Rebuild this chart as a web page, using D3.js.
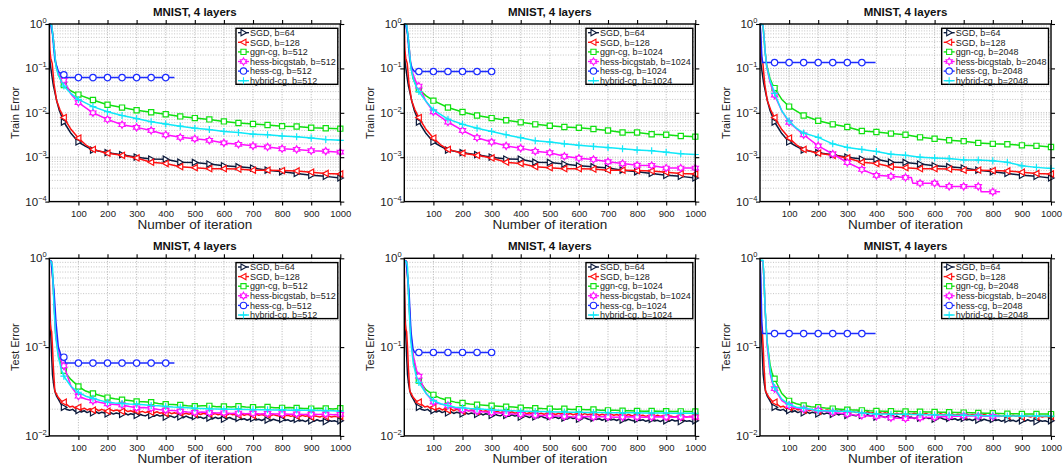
<!DOCTYPE html>
<html>
<head>
<meta charset="utf-8">
<script src="https://cdn.jsdelivr.net/npm/d3@7"></script>
<style>
  body { margin: 0; background: #fff; }
  svg { display: block; font-family: "Liberation Sans", Arial, sans-serif; }
</style>
</head>
<body>
<svg id="chart" width="1063" height="465"></svg>
<script>
// ---------------- data ----------------
const batchSizes = [512, 1024, 2048];
const panelTitle = "MNIST, 4 layers";
const xLabel = "Number of iteration";
const rowLabels = ["Train Error", "Test Error"];
const xTicks = [100, 200, 300, 400, 500, 600, 700, 800, 900, 1000];
const trainDecades = [1e-4, 1e-3, 1e-2, 1e-1, 1];
const testDecades = [1e-2, 1e-1, 1];
const methodNames = ["SGD, b=64", "SGD, b=128", "ggn-cg, b=", "hess-bicgstab, b=", "hess-cg, b=", "hybrid-cg, b="];

// iteration grids used by the denser recorded runs
const testGrid = d3.range(50, 1001, 25);
const sgdGrid = d3.range(50, 1001, 10);
function withGrid(early, grid, vals) {
  return early.concat(vals.map((v, i) => [grid[i], v]));
}

// ---- training error (shared SGD baselines) ----
const trainSgd64 = [[0,.3],[3,.13],[8,.075],[13,.045],[20,.027],[27,.017],[34,.0115],[42,.0085],[50,6.2e-3],[75,3.4e-3],[100,2.2e-3],[125,1.75e-3],[150,1.45e-3],[200,1.26e-3],[250,1.14e-3],[300,1.0e-3],[350,9.1e-4],[400,9.0e-4],[450,7.7e-4],[500,7.6e-4],[550,7.0e-4],[600,6.4e-4],[650,6.1e-4],[700,5.7e-4],[750,5.1e-4],[800,4.7e-4],[850,4.3e-4],[900,3.9e-4],[950,3.7e-4],[1000,3.4e-4]];
const trainSgd128 = [[0,1],[2,.26],[5,.17],[10,.13],[16,.046],[25,.019],[37,.0115],[50,7.8e-3],[75,4.2e-3],[100,2.7e-3],[125,1.9e-3],[150,1.5e-3],[200,1.23e-3],[250,1.1e-3],[300,9.6e-4],[350,7.7e-4],[400,7.2e-4],[450,6.1e-4],[500,5.8e-4],[550,5.5e-4],[600,5.5e-4],[650,5.4e-4],[700,5.1e-4],[750,5.1e-4],[800,5.0e-4],[850,4.9e-4],[900,4.6e-4],[950,4.3e-4],[1000,4.2e-4]];

// b = 512
const trainGgn512 = [[0,1],[8,.95],[14,.45],[22,.13],[31,.075],[42,.05],[50,.042],[75,.031],[100,.0257],[150,.0194],[200,.0152],[250,.0131],[300,.0114],[350,.0103],[400,.0093],[450,8.3e-3],[500,7.6e-3],[550,7.1e-3],[600,6.4e-3],[650,5.9e-3],[700,5.6e-3],[750,5.3e-3],[800,5.0e-3],[850,4.9e-3],[900,4.6e-3],[950,4.5e-3],[1000,4.4e-3]];
const trainBicg512 = [[0,1],[8,.95],[14,.45],[22,.13],[31,.08],[42,.062],[50,.054],[75,.026],[100,.017],[150,.01],[200,7.1e-3],[250,5.4e-3],[300,4.7e-3],[350,4.0e-3],[400,3.2e-3],[450,2.8e-3],[500,2.6e-3],[550,2.4e-3],[600,2.1e-3],[650,1.95e-3],[700,1.8e-3],[750,1.7e-3],[800,1.55e-3],[850,1.5e-3],[900,1.4e-3],[950,1.37e-3],[1000,1.3e-3]];
const trainHessCg512 = [[0,1],[5,.95],[11,.6],[19,.155],[31,.085],[42,.075],[50,.072],[60,.062],[100,.062],[150,.062],[200,.062],[250,.062],[300,.062],[350,.062],[400,.062],[430,.062]];
const trainHybrid512 = [[0,1],[8,.95],[14,.44],[23,.11],[31,.07],[42,.05],[50,.04],[75,.027],[100,.02],[150,.0138],[200,.0106],[250,8.7e-3],[300,7.4e-3],[350,6.3e-3],[400,5.6e-3],[450,5.0e-3],[500,4.5e-3],[550,4.2e-3],[600,3.8e-3],[650,3.6e-3],[700,3.3e-3],[750,3.2e-3],[800,3.0e-3],[850,2.9e-3],[900,2.7e-3],[950,2.5e-3],[1000,2.4e-3]];

// b = 1024
const trainGgn1024 = [[0,1],[8,.95],[14,.45],[22,.12],[30,.06],[40,.042],[50,.034],[75,.024],[100,.0188],[150,.0132],[200,.0104],[250,8.7e-3],[300,7.6e-3],[350,6.8e-3],[400,6.1e-3],[450,5.5e-3],[500,5.1e-3],[550,4.8e-3],[600,4.6e-3],[650,4.3e-3],[700,4.0e-3],[750,3.6e-3],[800,3.6e-3],[850,3.3e-3],[900,3.2e-3],[950,3.0e-3],[1000,2.9e-3]];
const trainBicg1024 = [[0,1],[8,.95],[14,.45],[22,.13],[30,.075],[40,.05],[50,.04],[75,.018],[100,.0105],[150,6.2e-3],[200,4.0e-3],[250,2.75e-3],[300,2.2e-3],[350,1.8e-3],[400,1.6e-3],[450,1.36e-3],[500,1.26e-3],[550,1.05e-3],[600,9.5e-4],[650,8.9e-4],[700,7.9e-4],[750,7.2e-4],[800,6.6e-4],[850,6.5e-4],[900,5.7e-4],[950,5.7e-4],[1000,5.7e-4]];
const trainHessCg1024 = [[0,1],[5,.95],[11,.6],[19,.15],[27,.1],[35,.085],[50,.085],[100,.085],[150,.085],[200,.085],[250,.085],[300,.085],[305,.085]];
const trainHybrid1024 = [[0,1],[8,.95],[14,.44],[23,.1],[32,.055],[42,.038],[50,.03],[75,.018],[100,.0116],[150,7.2e-3],[200,5.5e-3],[250,4.5e-3],[300,3.8e-3],[350,3.2e-3],[400,2.75e-3],[450,2.35e-3],[500,2.2e-3],[550,2.0e-3],[600,1.85e-3],[650,1.75e-3],[700,1.65e-3],[750,1.55e-3],[800,1.45e-3],[850,1.4e-3],[900,1.3e-3],[950,1.2e-3],[1000,1.15e-3]];

// b = 2048
const trainGgn2048 = [[0,1],[10,.95],[14,.5],[17,.26],[23,.12],[34,.06],[42,.045],[50,.036],[75,.02],[100,.0138],[150,8.7e-3],[200,6.6e-3],[250,5.5e-3],[300,4.8e-3],[350,3.9e-3],[400,3.7e-3],[450,3.4e-3],[500,3.2e-3],[550,2.8e-3],[600,2.6e-3],[650,2.4e-3],[700,2.3e-3],[750,2.1e-3],[800,2.0e-3],[850,1.95e-3],[900,1.85e-3],[950,1.8e-3],[1000,1.7e-3]];
const trainBicg2048 = [[0,1],[10,.95],[14,.5],[17,.26],[23,.11],[34,.05],[42,.035],[50,.025],[75,.011],[100,6.1e-3],[150,3.2e-3],[200,1.8e-3],[250,1.18e-3],[300,7.6e-4],[350,5.3e-4],[400,3.9e-4],[450,3.7e-4],[500,3.5e-4],[520,3.5e-4],[525,2.6e-4],[550,2.6e-4],[600,2.6e-4],[612,2.6e-4],[617,2.2e-4],[650,2.2e-4],[700,2.2e-4],[750,2.2e-4],[756,2.2e-4],[760,1.66e-4],[800,1.66e-4],[825,1.66e-4]];
const trainHessCg2048 = [[0,1],[3,.6],[6,.2],[9,.135],[50,.135],[100,.135],[150,.135],[200,.135],[250,.135],[300,.135],[350,.135],[397,.135]];
const trainHybrid2048 = [[0,1],[10,.95],[14,.5],[17,.26],[23,.11],[34,.055],[42,.04],[50,.0275],[75,.011],[100,6.5e-3],[125,4.5e-3],[150,3.5e-3],[200,2.8e-3],[250,2.0e-3],[300,1.66e-3],[350,1.5e-3],[400,1.35e-3],[450,1.17e-3],[500,1.1e-3],[550,1.0e-3],[600,9.6e-4],[650,9.3e-4],[700,8.7e-4],[750,8.6e-4],[800,8.3e-4],[850,7.7e-4],[900,6.4e-4],[950,5.9e-4],[1000,5.6e-4]];

// ---- test error (shared SGD baselines, logged every 10 iterations) ----
const testSgd64 = withGrid([[0,.5],[2,.3],[5,.14],[8,.08],[11,.049],[15,.038],[19,.032],[25,.028],[31,.026],[42,.0224]], sgdGrid, [
  .0210,.0198,.0194,.0199,.0188,.0193,.0186,.0192,.0183,.0189,
  .0182,.0188,.0179,.0185,.0181,.0177,.0184,.0176,.0181,.0178,
  .0175,.0181,.0172,.0178,.0174,.0170,.0177,.0171,.0168,.0175,
  .0170,.0166,.0173,.0167,.0171,.0163,.0169,.0166,.0161,.0168,
  .0164,.0160,.0167,.0161,.0158,.0165,.0160,.0163,.0157,.0162,
  .0159,.0155,.0162,.0157,.0160,.0154,.0158,.0161,.0155,.0152,
  .0158,.0153,.0156,.0150,.0155,.0157,.0151,.0154,.0149,.0155,
  .0151,.0148,.0154,.0150,.0147,.0153,.0149,.0152,.0146,.0150,
  .0153,.0147,.0150,.0145,.0151,.0148,.0146,.0152,.0147,.0149,
  .0145,.0150,.0146,.0148,.0144,.0148]);
const testSgd128 = withGrid([[0,.95],[1,.5],[2,.2],[5,.16],[8,.15],[11,.1],[14,.059],[19,.032],[31,.027],[40,.025]], sgdGrid, [
  .0240,.0226,.0212,.0216,.0204,.0210,.0199,.0205,.0196,.0203,
  .0195,.0201,.0192,.0199,.0194,.0190,.0198,.0191,.0196,.0193,
  .0189,.0196,.0188,.0192,.0186,.0191,.0185,.0189,.0183,.0188,
  .0185,.0181,.0187,.0180,.0184,.0179,.0185,.0178,.0182,.0177,
  .0183,.0176,.0180,.0175,.0181,.0176,.0179,.0174,.0180,.0175,
  .0178,.0174,.0179,.0173,.0177,.0175,.0172,.0178,.0173,.0176,
  .0172,.0177,.0171,.0175,.0172,.0170,.0176,.0171,.0174,.0169,
  .0173,.0168,.0174,.0170,.0167,.0172,.0169,.0171,.0166,.0170,
  .0168,.0165,.0171,.0166,.0169,.0164,.0168,.0166,.0163,.0168,
  .0165,.0167,.0163,.0166,.0164,.0166]);

// b = 512
const testGgn512 = withGrid([[0,.95],[8,.92],[14,.45],[22,.14],[31,.085],[42,.06]], testGrid, [
  .054,.043,.036,.032,.030,.0285,.027,.0262,.0256,.0250,
  .0244,.0243,.0240,.0232,.0227,.0226,.0223,.0219,.0216,.0219,
  .0218,.0213,.0214,.0212,.0216,.0211,.0210,.0212,.0212,.0207,
  .0207,.0209,.0206,.0203,.0203,.0205,.0204,.0201,.0205]);
const testBicg512 = withGrid([[0,.95],[8,.92],[14,.45],[22,.14],[31,.09],[42,.068]], testGrid, [
  .0615,.036,.028,.026,.0248,.0238,.023,.0226,.0223,.0214,
  .0207,.0209,.0205,.0198,.0195,.0193,.0190,.0186,.0184,.0186,
  .0183,.0181,.0182,.0179,.0181,.0178,.0180,.0177,.0179,.0176,
  .0178,.0175,.0177,.0174,.0176,.0174,.0176,.0173,.0175]);
const testHessCg512 = [[0,.95],[6,.93],[16,.44],[23,.19],[31,.1],[42,.078],[50,.077],[56,.066],[100,.066],[150,.066],[200,.066],[250,.066],[300,.066],[350,.066],[400,.066],[430,.066]];
const testHybrid512 = withGrid([[0,.95],[8,.9],[11,.8],[16,.285],[22,.13],[31,.077],[42,.055]], testGrid, [
  .047,.036,.031,.028,.0265,.025,.024,.0235,.0232,.0229,
  .0227,.0224,.0220,.0218,.0215,.0212,.0210,.0208,.0205,.0204,
  .0202,.0201,.0200,.0199,.0199,.0198,.0198,.0197,.0197,.0196,
  .0197,.0195,.0196,.0194,.0195,.0193,.0193,.0192,.0190]);

// b = 1024
const testGgn1024 = withGrid([[0,.95],[8,.92],[14,.45],[22,.14],[31,.075],[42,.05]], testGrid, [
  .042,.033,.029,.0265,.025,.024,.0235,.0228,.0225,.0222,
  .0219,.0216,.0213,.0211,.0208,.0207,.0205,.0203,.0202,.0200,
  .0202,.0198,.0200,.0197,.0198,.0195,.0194,.0194,.0192,.0192,
  .0191,.0190,.0191,.0189,.0190,.0188,.0189,.0188,.0188]);
const testBicg1024 = withGrid([[0,.95],[8,.92],[14,.45],[22,.14],[31,.08],[42,.055]], testGrid, [
  .047,.030,.024,.0228,.022,.0205,.0197,.0192,.0190,.0186,
  .0183,.0181,.0178,.0176,.0175,.0173,.0171,.0170,.0168,.0167,
  .0166,.0164,.0163,.0165,.0163,.0164,.0164,.0162,.0163,.0164,
  .0163,.0162,.0163,.0164,.0163,.0162,.0163,.0164,.0163]);
const testHessCg1024 = [[0,.95],[6,.93],[16,.44],[23,.15],[30,.095],[36,.087],[50,.087],[100,.087],[150,.087],[200,.087],[250,.087],[300,.087],[305,.087]];
const testHybrid1024 = withGrid([[0,.95],[8,.9],[11,.8],[16,.285],[22,.12],[31,.065],[42,.046]], testGrid, [
  .040,.030,.025,.023,.022,.021,.0208,.0204,.0202,.0199,
  .0197,.0195,.0193,.0192,.0190,.0189,.0188,.0188,.0187,.0186,
  .0186,.0185,.0185,.0184,.0184,.0183,.0183,.0182,.0182,.0182,
  .0182,.0181,.0181,.0181,.0181,.0180,.0180,.0180,.0180]);

// b = 2048
const testGgn2048 = withGrid([[0,.95],[10,.93],[14,.55],[18,.25],[25,.11],[35,.062],[42,.05]], testGrid, [
  .044,.030,.0248,.023,.022,.0213,.021,.0206,.0203,.0200,
  .0197,.0196,.0194,.0192,.0191,.0190,.0190,.0189,.0188,.0187,
  .0187,.0186,.0186,.0185,.0185,.0184,.0183,.0182,.0181,.0180,
  .0180,.0179,.0178,.0178,.0177,.0177,.0177,.0176,.0176]);
const testBicg2048 = withGrid([[0,.95],[10,.93],[14,.55],[18,.25],[25,.1],[35,.05],[42,.04]], testGrid, [
  .034,.025,.022,.0205,.020,.0198,.0195,.0188,.0184,.0180,
  .0176,.0172,.0170,.0168,.0166,.0163,.0160,.0158,.0157,.0159,
  .0160,.0161,.0162,.0164,.0165,.0166,.0168,.0167,.0167,.0166,
  .0166,.0165]);
const testHessCg2048 = [[0,.95],[3,.6],[6,.2],[9,.142],[50,.142],[100,.142],[150,.142],[200,.142],[250,.142],[300,.142],[350,.142],[397,.142]];
const testHybrid2048 = withGrid([[0,.95],[10,.95],[13,.7],[17,.3],[24,.12],[35,.055],[42,.042]], testGrid, [
  .035,.026,.0226,.021,.0205,.020,.0192,.0192,.0191,.0190,
  .0190,.0186,.0182,.0179,.0176,.0176,.0175,.0175,.0175,.0174,
  .0174,.0173,.0173,.0172,.0172,.0171,.0171,.0170,.0170,.0169,
  .0169,.0168,.0168,.0168,.0167,.0167,.0167,.0167,.0167]);

// ---------------- styles ----------------
const seriesStyle = [
  { color: "#0c1a3c", marker: "triRight" },
  { color: "#ff1010", marker: "triLeft" },
  { color: "#10e010", marker: "square" },
  { color: "#ff10ff", marker: "hexagram" },
  { color: "#1c2cff", marker: "circle" },
  { color: "#10e8f8", marker: "plus" }
];

const colX = [49.3, 404.3, 760];
const plotW = 291;
const rowY = [24, 258.3];
const plotH = 177.6;

const panels = [
  { row: 0, col: 0, decades: trainDecades, series: [trainSgd64, trainSgd128, trainGgn512, trainBicg512, trainHessCg512, trainHybrid512] },
  { row: 0, col: 1, decades: trainDecades, series: [trainSgd64, trainSgd128, trainGgn1024, trainBicg1024, trainHessCg1024, trainHybrid1024] },
  { row: 0, col: 2, decades: trainDecades, series: [trainSgd64, trainSgd128, trainGgn2048, trainBicg2048, trainHessCg2048, trainHybrid2048] },
  { row: 1, col: 0, decades: testDecades, series: [testSgd64, testSgd128, testGgn512, testBicg512, testHessCg512, testHybrid512] },
  { row: 1, col: 1, decades: testDecades, series: [testSgd64, testSgd128, testGgn1024, testBicg1024, testHessCg1024, testHybrid1024] },
  { row: 1, col: 2, decades: testDecades, series: [testSgd64, testSgd128, testGgn2048, testBicg2048, testHessCg2048, testHybrid2048] }
];

function markerPath(type) {
  switch (type) {
    case "triRight": { const s = 3.1; return `M${-s*0.8},${-s}L${s},0L${-s*0.8},${s}Z`; }
    case "triLeft":  { const s = 3.1; return `M${s*0.8},${-s}L${-s},0L${s*0.8},${s}Z`; }
    case "square":   { const s = 2.6; return `M${-s},${-s}H${s}V${s}H${-s}Z`; }
    case "circle":   { const r = 3.2; return `M${r},0A${r},${r} 0 1,1 ${-r},0A${r},${r} 0 1,1 ${r},0Z`; }
    case "plus":     { const s = 3.5; return `M${-s},0H${s}M0,${-s}V${s}`; }
    case "hexagram": {
      const ro = 3.6, ri = 2.1; let d = "";
      for (let k = 0; k < 12; k++) {
        const a = -Math.PI / 2 + k * Math.PI / 6, r = k % 2 ? ri : ro;
        d += (k ? "L" : "M") + (r * Math.cos(a)).toFixed(2) + "," + (r * Math.sin(a)).toFixed(2);
      }
      return d + "Z";
    }
  }
}

const svg = d3.select("#chart");
svg.append("rect").attr("width", 1063).attr("height", 465).attr("fill", "#fff");

panels.forEach((p, pi) => {
  const x0 = colX[p.col], y0 = rowY[p.row];
  const x = d3.scaleLinear().domain([0, 1000]).range([x0, x0 + plotW]);
  const y = d3.scaleLog().domain([p.decades[0], 1]).range([y0 + plotH, y0]);
  const g = svg.append("g");

  // grid: minor + major for log y, major for x
  const minors = [];
  p.decades.slice(0, -1).forEach(d => { for (let k = 2; k <= 9; k++) minors.push(k * d); });
  g.append("g").selectAll("line").data(minors).join("line")
    .attr("x1", x0).attr("x2", x0 + plotW)
    .attr("y1", d => y(d)).attr("y2", d => y(d))
    .attr("stroke", "#aaa").attr("stroke-width", 0.7).attr("stroke-dasharray", "1,1.6");
  g.append("g").selectAll("line").data(p.decades.slice(1, -1)).join("line")
    .attr("x1", x0).attr("x2", x0 + plotW)
    .attr("y1", d => y(d)).attr("y2", d => y(d))
    .attr("stroke", "#999").attr("stroke-width", 0.8).attr("stroke-dasharray", "1,1.6");
  g.append("g").selectAll("line").data(xTicks.slice(0, -1)).join("line")
    .attr("x1", d => x(d)).attr("x2", d => x(d))
    .attr("y1", y0).attr("y2", y0 + plotH)
    .attr("stroke", "#a4a4a4").attr("stroke-width", 0.8).attr("stroke-dasharray", "1,1.6");

  // clip for the curves
  const clipId = "clip" + pi;
  svg.append("clipPath").attr("id", clipId).append("rect")
    .attr("x", x0).attr("y", y0 - 1).attr("width", plotW).attr("height", plotH + 2);

  const line = d3.line().x(d => x(d[0])).y(d => y(d[1]));
  p.series.forEach((s, si) => {
    const st = seriesStyle[si];
    g.append("path").datum(s)
      .attr("clip-path", `url(#${clipId})`)
      .attr("d", line).attr("fill", "none")
      .attr("stroke", st.color).attr("stroke-width", 1.5).attr("stroke-linejoin", "round");
    const marks = s.filter(d => d[0] >= 50 && d[0] % 50 === 0);
    g.append("g").selectAll("path").data(marks).join("path")
      .attr("transform", d => `translate(${x(d[0])},${y(d[1])})`)
      .attr("d", markerPath(st.marker))
      .attr("fill", st.marker === "plus" ? "none" : "#fff")
      .attr("stroke", st.color).attr("stroke-width", 1.2);
  });

  // frame
  g.append("rect").attr("x", x0).attr("y", y0).attr("width", plotW).attr("height", plotH)
    .attr("fill", "none").attr("stroke", "#000").attr("stroke-width", 1.4);

  // axes (outward ticks on all four sides)
  const styleAxis = sel => {
    sel.select(".domain").remove();
    sel.selectAll(".tick line").attr("stroke", "#000").attr("stroke-width", 1.1);
  };
  g.append("g").attr("transform", `translate(0,${y0 + plotH})`)
    .call(d3.axisBottom(x).tickValues(xTicks).tickSize(4).tickPadding(4.5).tickFormat(d3.format("d")))
    .call(styleAxis)
    .call(a => a.selectAll("text").attr("font-size", 9.5).attr("fill", "#222").attr("font-family", "Liberation Sans, Arial, sans-serif"));
  g.append("g").attr("transform", `translate(0,${y0})`)
    .call(d3.axisTop(x).tickValues(xTicks).tickSize(4).tickFormat(""))
    .call(styleAxis);
  g.append("g").attr("transform", `translate(${x0},0)`)
    .call(d3.axisLeft(y).tickValues(p.decades).tickSize(4).tickFormat(""))
    .call(styleAxis);
  g.append("g").attr("transform", `translate(${x0 + plotW},0)`)
    .call(d3.axisRight(y).tickValues(p.decades).tickSize(4).tickFormat(""))
    .call(styleAxis);

  // y tick labels: 10^k
  p.decades.forEach(d => {
    const t = g.append("text")
      .attr("x", x0 - 2.6).attr("y", y(d) + 4)
      .attr("text-anchor", "end").attr("font-size", 11.5).attr("fill", "#222");
    t.append("tspan").text("10");
    t.append("tspan").attr("dy", -5).attr("font-size", 7.5).text(String(Math.round(Math.log10(d))).replace("-", "\u2212"));
  });

  // title and axis labels
  g.append("text").attr("x", x0 + plotW / 2).attr("y", y0 - 8.3)
    .attr("text-anchor", "middle").attr("font-size", 11.5).attr("font-weight", "bold").attr("fill", "#111")
    .text(panelTitle);
  g.append("text").attr("x", x0 + plotW / 2).attr("y", y0 + plotH + 27.5)
    .attr("text-anchor", "middle").attr("font-size", 13.5).attr("fill", "#222")
    .text(xLabel);
  g.append("text")
    .attr("transform", `translate(${x0 - 30.5},${y0 + plotH / 2}) rotate(-90)`)
    .attr("text-anchor", "middle").attr("font-size", 11).attr("fill", "#222")
    .text(rowLabels[p.row]);

  // legend
  const names = methodNames.map((n, i) => i < 2 ? n : n + batchSizes[p.col]);
  const lg = g.append("g");
  const right = x0 + plotW - 2.5, top = y0 + 4.3, rowH = 9.6;
  const box = lg.append("rect").attr("y", top).attr("height", 56)
    .attr("fill", "#fff").attr("stroke", "#000").attr("stroke-width", 1.4);
  const texts = names.map((n, i) => lg.append("text")
    .attr("y", top + 4.4 + i * rowH + 3.2).attr("font-size", 9).attr("fill", "#222").text(n));
  const tw = d3.max(texts, t => t.node().getComputedTextLength());
  const left = right - (tw + 16);
  box.attr("x", left).attr("width", right - left);
  texts.forEach(t => t.attr("x", left + 14));
  names.forEach((n, i) => {
    const st = seriesStyle[i], cy = top + 4.4 + i * rowH;
    lg.append("line").attr("x1", left + 2).attr("x2", left + 13).attr("y1", cy).attr("y2", cy)
      .attr("stroke", st.color).attr("stroke-width", 1.4);
    lg.append("path").attr("transform", `translate(${left + 7.5},${cy})`)
      .attr("d", markerPath(st.marker))
      .attr("fill", st.marker === "plus" ? "none" : "#fff")
      .attr("stroke", st.color).attr("stroke-width", 1.1);
  });
});
</script>
</body>
</html>
